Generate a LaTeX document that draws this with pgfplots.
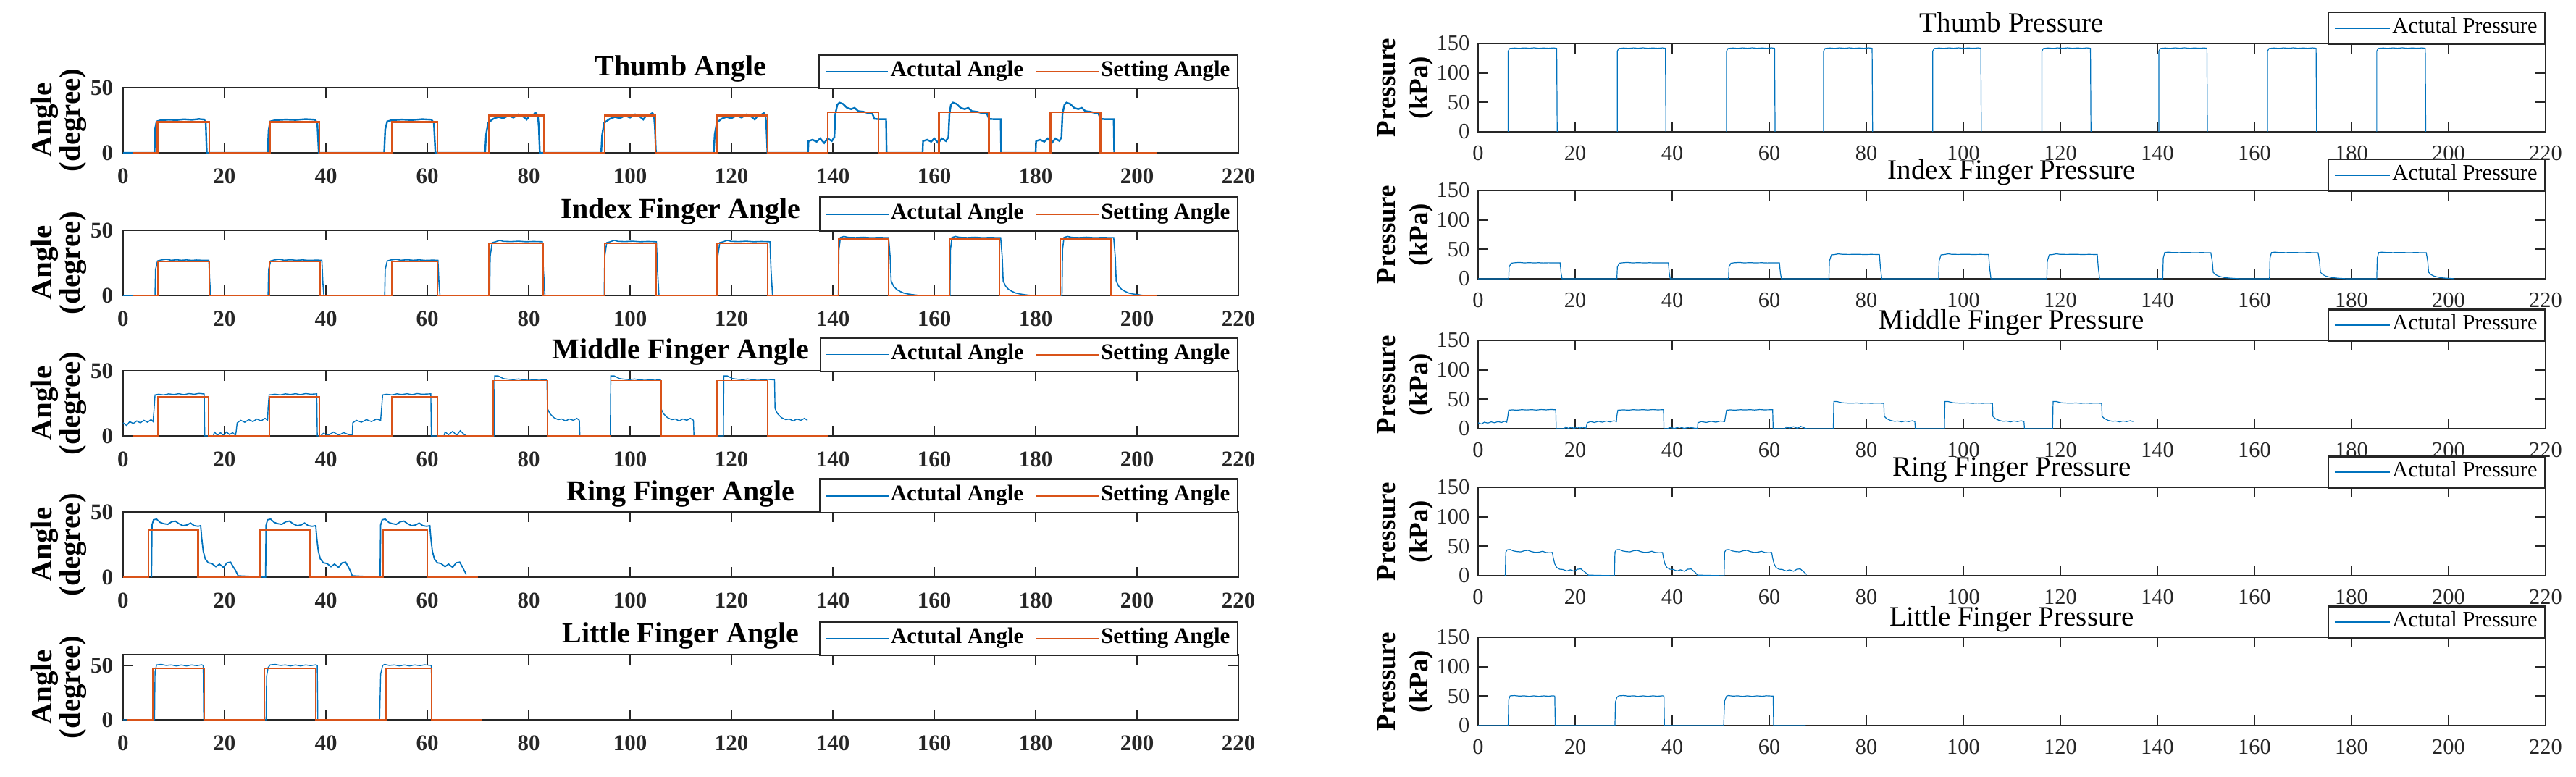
\documentclass[border=0pt]{standalone}
\usepackage{pgfplots}
\pgfplotsset{compat=1.18}
\usepackage{pgfplotstable}
\usepackage{fontspec}
\setmainfont{Liberation Serif}
\definecolor{mblue}{HTML}{0072BD}
\definecolor{morange}{HTML}{D95319}
\definecolor{axc}{HTML}{262626}

% ---------------- THUMB ----------------
\pgfplotstableread{
x y
0 0
6.2 0
6.3 18
6.6 24
7.5 25
9 25.4
10.5 25.1
12 25.7
13.5 25.3
15 25.9
16 25.5
16.3 23
16.5 0
28.5 0
28.7 17
29 24
30 25
32 25.5
34 25.2
36 25.8
37.8 25.4
38.3 23
38.6 0
51.5 0
51.7 18
52.1 24
53 25
55 25.5
57 25.1
59 25.8
60.8 25.4
61.3 23
61.6 0
71.4 0
71.6 14
72 23
73 26
74 27.5
75 26.5
76 28.5
77 27
78 29.5
79 27.5
79.6 25.5
80.2 28.5
81 29.5
81.4 30.5
81.8 29
82 20
82.2 0
94.3 0
94.5 14
94.9 23
96 26
97 27.5
98 26.5
99 28.5
100 27
101 29.5
102 27.5
102.6 25.5
103.2 28.5
104 29.5
104.4 30.5
104.7 29
104.9 20
105.1 0
116.5 0
116.7 14
117.1 23
118 26
119 27.5
120 26.5
121 28.5
122 27
123 29.5
124 27.5
124.6 25.5
125.2 28.5
126 29.5
126.4 30.5
126.7 29
126.9 20
127.1 0
135.1 0
135.2 9
136 10
136.8 8.5
137.5 11
138.3 7.5
139 11
139.8 9
140.3 12
140.5 30
140.9 37
141.3 38.5
142 37.5
142.8 34.5
143.6 33.5
144.3 34.5
145 32
146 31.5
147 30.5
147.8 30
148.2 26
149 25.8
150.5 25.8
150.6 0
157.7 0
157.8 9
158.6 10
159.4 8.5
160 11
160.8 7.5
161.5 11
162.3 9
162.8 12
163 30
163.3 37
163.7 38.5
164.4 37.5
165.2 34.5
166 33.5
166.7 34.5
167.4 32
168.4 31.5
169.4 30.5
170.4 30
170.8 26
171.6 25.8
173.1 25.8
173.2 0
180 0
180.1 9
180.9 10
181.7 8.5
182.4 11
183.2 7.5
183.9 11
184.7 9
185.1 12
185.3 30
185.7 37
186.1 38.5
186.8 37.5
187.6 34.5
188.4 33.5
189.1 34.5
189.8 32
190.8 31.5
191.8 30.5
192.4 30
192.8 26
193.6 25.8
195.4 25.8
195.5 0
}\thumbA

\pgfplotstableread{
x y
1.8 0
6.8 0
6.8 23.5
17 23.5
17 0
28.9 0
28.9 23.5
38.7 23.5
38.7 0
53 0
53 23.5
62 23.5
62 0
72.1 0
72.1 28.5
83 28.5
83 0
95 0
95 28.5
105 28.5
105 0
117.1 0
117.1 28.5
127.1 28.5
127.1 0
139 0
139 31
149 31
149 0
160.9 0
160.9 31
170.8 31
170.8 0
182.9 0
182.9 31
192.8 31
192.8 0
203.8 0
}\thumbS

\pgfplotstableread{
x y
6.2 0
6.2 137
6.5 141.5
7.5 142.3
8.5 141.6
9.5 142.5
10.5 141.8
11.5 142.6
12.5 141.7
13.5 142.4
14.5 141.8
15.5 142.5
16.2 141.8
16.3 0
nan nan
28.7 0
28.7 137
29 141.5
30 142.3
31 141.6
32 142.5
33 141.8
34 142.6
35 141.7
36 142.4
37 141.8
38 142.5
38.6 141.8
38.7 0
nan nan
51.2 0
51.2 137
51.5 141.5
52.5 142.3
53.5 141.6
54.5 142.5
55.5 141.8
56.5 142.6
57.5 141.7
58.5 142.4
59.5 141.8
60.5 142.5
61.1 141.8
61.2 0
nan nan
71.2 0
71.2 137
71.5 141.5
72.5 142.3
73.5 141.6
74.5 142.5
75.5 141.8
76.5 142.6
77.5 141.7
78.5 142.4
79.5 141.8
80.5 142.5
81.2 141.8
81.3 0
nan nan
93.7 0
93.7 137
94 141.5
95 142.3
96 141.6
97 142.5
98 141.8
99 142.6
100 141.7
101 142.4
102 141.8
103 142.5
103.6 141.8
103.7 0
nan nan
116.2 0
116.2 137
116.5 141.5
117.5 142.3
118.5 141.6
119.5 142.5
120.5 141.8
121.5 142.6
122.5 141.7
123.5 142.4
124.5 141.8
125.5 142.5
126.2 141.8
126.3 0
nan nan
140.3 0
140.3 137
140.6 141.5
141.6 142.3
142.6 141.6
143.6 142.5
144.6 141.8
145.6 142.6
146.6 141.7
147.6 142.4
148.6 141.8
149.6 142.5
150.2 141.8
150.3 0
nan nan
162.7 0
162.7 137
163 141.5
164 142.3
165 141.6
166 142.5
167 141.8
168 142.6
169 141.7
170 142.4
171 141.8
172 142.5
172.7 141.8
172.8 0
nan nan
185.2 0
185.2 137
185.5 141.5
186.5 142.3
187.5 141.6
188.5 142.5
189.5 141.8
190.5 142.6
191.5 141.7
192.5 142.4
193.5 141.8
194.5 142.5
195.2 141.8
195.3 0
}\thumbP

% ---------------- INDEX ----------------
\pgfplotstableread{
x y
0 0
6.3 0
6.4 20
6.8 26.5
7.5 27.2
8.5 27.8
9.5 27
10.5 27.4
11.5 27
12.5 27.3
13.5 26.9
14.5 27.2
15.5 27
16.9 27
17.1 10
17.3 0
28.6 0
28.7 20
29.1 26.5
29.8 27.2
30.8 27.8
31.8 27
33 27.4
34.2 27
35.4 27.3
36.6 26.9
38 27.1
39.2 27
39.4 10
39.6 0
51.6 0
51.7 20
52.1 26.5
52.8 27.2
53.8 27.8
54.8 27
56 27.4
57.2 27
58.4 27.3
59.6 26.9
61 27.1
62.1 27
62.3 10
62.5 0
72.3 0
72.4 30
72.8 40.5
73.5 41.2
74.3 42.3
75 41.5
76.5 41.3
78 41.6
79.5 41.2
81 41.4
82.7 41.2
82.9 20
83.2 0
94.9 0
95 30
95.4 40.5
96.1 41.2
96.9 42.3
97.6 41.5
99 41.3
100.5 41.6
102 41.2
103.5 41.4
105.2 41.2
105.4 20
105.7 0
117.2 0
117.3 30
117.7 40.5
118.4 41.2
119.2 42.3
119.9 41.5
121.4 41.3
122.9 41.6
124.4 41.2
125.9 41.4
127.6 41.2
127.8 20
128.1 0
141.1 0
141.2 35
141.5 44.5
142.2 45.3
143 44.6
144.5 44.4
146 44.7
147.5 44.3
149 44.5
151 44.3
151.3 30
151.5 11
152 7
152.6 4.5
153.3 3
154 1.8
155 1
156 0.5
157 0
163.1 0
163.2 35
163.5 44.5
164.2 45.3
165 44.6
166.5 44.4
168 44.7
169.5 44.3
171 44.5
173.1 44.3
173.4 30
173.6 11
174.1 7
174.7 4.5
175.4 3
176.1 1.8
177.1 1
178 0.5
179 0
185.2 0
185.3 35
185.6 44.5
186.3 45.3
187.1 44.6
188.6 44.4
190.1 44.7
191.6 44.3
193.1 44.5
195.4 44.3
195.7 30
195.9 11
196.4 7
197 4.5
197.7 3
198.4 1.8
199.4 1
200.4 0.5
201.2 0
}\indexA

\pgfplotstableread{
x y
1.8 0
6.8 0
6.8 26
17 26
17 0
28.9 0
28.9 26
38.8 26
38.8 0
53 0
53 26
62 26
62 0
72.1 0
72.1 40
82.9 40
82.9 0
95 0
95 40
105.1 40
105.1 0
117.1 0
117.1 40
127.2 40
127.2 0
141.2 0
141.2 43.3
151 43.3
151 0
163 0
163 43.3
172.9 43.3
172.9 0
184.9 0
184.9 43.3
194.8 43.3
194.8 0
203.8 0
}\indexS

% ---------------- MIDDLE ----------------
\pgfplotstableread{
x y
0 10
0.7 8
1.3 11
2 9.5
2.7 11.5
3.4 10
4.1 12
4.8 10.5
5.5 12.5
5.9 11
6.1 20
6.3 31.5
7 32
8 31.5
9 32.3
10 31.8
11 32.4
12 31.7
13 32.5
14 32
15 32.6
16 32.2
16.1 0
17.8 0
18 3
18.6 0.5
19.2 2.5
19.8 0.5
20.4 3
21 1
21.6 2.5
22.2 0.5
22.5 10
23.2 12
24 10.5
24.8 12.5
25.6 11
26.4 13
27.2 11.5
28 13.5
28.5 12
28.6 22
28.8 31.5
30 32
31 31.5
32 32.3
33 31.8
34 32.4
35 31.7
36 32.5
37 32
38.2 32.3
38.3 0
39 0
39.5 2
40.5 0.5
41.5 3
42.5 0.5
43.5 2.5
44.5 1
45.2 0.5
45.3 10
46 12
47 10.5
48 12.5
49 11
50 13
50.8 12
51 22
51.2 31.5
52 32
53 31.5
54 32.3
55 31.8
56 32.4
57 31.7
58 32.5
59 32
60.7 32.3
60.8 0
63.3 0
63.5 3
64.2 1
65 3.5
65.8 0.5
66.5 4
67.3 1
67.8 0
73.2 0
73.3 46
74 46
75 44
76 43.5
77 43.2
78 43.7
79 43
80 43.5
81 43
82 43.4
83.6 43
83.7 21
84.2 17
85 14
85.8 12.5
86.5 13
87.3 11.5
88 13
88.8 12
89.5 13.5
90 12
90.1 0
96.1 0
96.2 46
96.9 46
97.9 44
98.9 43.5
99.9 43.2
100.9 43.7
101.9 43
102.9 43.5
103.9 43
104.9 43.4
106 43
106.1 21
106.6 17
107.4 14
108.2 12.5
108.9 13
109.7 11.5
110.4 13
111.2 12
111.9 13.5
112.5 12
112.6 0
118.4 0
118.5 46
119.2 46
120.2 44
121.2 43.5
122.2 43.2
123.2 43.7
124.2 43
125.2 43.5
126.2 43
127.2 43.4
128.5 43
128.6 21
129.1 17
129.9 14
130.7 12.5
131.4 13
132.2 11.5
132.9 13
133.7 12
134.4 13.5
135 12
}\middleA

\pgfplotstableread{
x y
1.8 0
6.9 0
6.9 30
16.9 30
16.9 0
28.9 0
28.9 30
38.8 30
38.8 0
53 0
53 30
62 30
62 0
73 0
73 42.5
83.8 42.5
83.8 0
96.2 0
96.2 42.5
106.1 42.5
106.1 0
117.1 0
117.1 42.5
127.1 42.5
127.1 0
139 0
}\middleS

% ---------------- RING ----------------
\pgfplotstableread{
x y
5.6 0
5.7 40
6 44
6.6 44.5
7.3 42
8 41
8.8 40.5
9.6 42.5
10.3 43
11 41
11.8 39.5
12.6 40
13.3 41.5
14 39.5
14.8 39
15.3 39.5
15.5 30
15.8 20
16.2 14
16.8 11
17.5 10.5
18.3 8
19 10
19.8 7.5
20.5 11
21.2 11.5
21.7 8
22.2 5
22.7 1
28.1 0
28.2 40
28.5 44
29.1 44.5
29.8 42
30.5 41
31.3 40.5
32.1 42.5
32.8 43
33.5 41
34.3 39.5
35.1 40
35.8 41.5
36.5 39.5
37.3 39
38 39.5
38.2 30
38.5 20
38.9 14
39.5 11
40.2 10.5
41 8
41.7 10
42.5 7.5
43.2 11
43.9 11.5
44.4 8
44.8 5
45.2 1
50.7 0
50.8 40
51.1 44
51.7 44.5
52.4 42
53.1 41
53.9 40.5
54.7 42.5
55.4 43
56.1 41
56.9 39.5
57.7 40
58.4 41.5
59.1 39.5
59.9 39
60.5 39.5
60.7 30
61 20
61.4 14
62 11
62.7 10.5
63.5 8
64.2 10
65 7.5
65.7 11
66.4 11.5
66.9 8
67.3 5
67.7 2
}\ringA

\pgfplotstableread{
x y
0 0
5 0
5 36
14.8 36
14.8 0
27 0
27 36
36.8 36
36.8 0
51.2 0
51.2 36
60 36
60 0
70 0
}\ringS

% ---------------- LITTLE ----------------
\pgfplotstableread{
x y
0 0
6.2 0
6.3 44
6.6 50.5
7.5 51
8.5 50
9.5 50.5
10.5 49.5
11.5 50.5
12.5 49.5
13.5 50.5
14.5 49.8
15.5 50.6
15.8 50
15.9 0
28.2 0
28.3 40
28.6 48
29 50.5
30 51
31 50
32 50.5
33 49.5
34 50.5
35 49.5
36 50.5
37 49.8
38 50.6
38.3 50
38.4 0
50.6 0
50.8 42
51.2 50
51.6 51
52.5 50
53.5 50.5
54.5 49.5
55.5 50.5
56.5 49.5
57.5 50.5
58.5 49.8
59.5 50.6
60.8 50
60.9 0
67.5 0
}\littleA

\pgfplotstableread{
x y
0.8 0
5.9 0
5.9 47
16 47
16 0
27.9 0
27.9 47
38 47
38 0
51.9 0
51.9 47
60.9 47
60.9 0
70.9 0
}\littleS

\pgfplotsset{
  base/.style={
    scale only axis, xmin=0, xmax=220, ymin=0,
    xtick={0,20,...,220},
    tick align=inside,
    axis line style={draw=axc, line width=0.55pt},
    major tick style={draw=axc, line width=0.55pt},
    major tick length=3.5pt,
    /pgf/number format/assume math mode=true,
    xticklabel style={inner sep=0pt, anchor=north},
    yticklabel style={inner sep=0pt, anchor=east},
    unbounded coords=jump,
    clip=false,
  },
  leftax/.style={
    base, width=385pt, height=22.5pt, ymax=50, ytick={0,50},
    tick label style={font=\bfseries\fontsize{7.75}{8}\selectfont, text=axc},
    xticklabel style={yshift=-5.25pt},
    yticklabel style={xshift=-3.25pt},
    every axis title/.style={at={(0.5,1)}, anchor=base, yshift=4pt,
      font=\bfseries\fontsize{10}{12}\selectfont},
    ylabel={Angle\\(degree)},
    every axis y label/.style={at={(axis description cs:-0.0578,0.5)}, rotate=90, anchor=center,
      align=center, font=\bfseries\fontsize{10.25}{9.75}\selectfont},
    legend columns=2,
    legend image code/.code={\draw[##1] (0pt,0pt) -- (21.5pt,0pt);},
    legend style={at={(1,1)}, anchor=south east, yshift=-0.5pt,
      font=\bfseries\fontsize{7.75}{8}\selectfont,
      draw=axc, line width=0.55pt, fill=white,
      inner xsep=2pt, inner ysep=1.5pt, nodes={inner sep=0.6pt, text depth=0.2em},
      /tikz/every even column/.append style={column sep=3.5pt}},
  },
  rightax/.style={
    base, width=368.5pt, height=30.5pt, ymax=150, ytick={0,50,100,150},
    tick label style={font=\fontsize{7.6}{8}\selectfont, text=axc},
    xticklabel style={yshift=-4.5pt},
    yticklabel style={xshift=-2.75pt},
    every axis title/.style={at={(0.5,1)}, anchor=base, yshift=3.75pt,
      font=\fontsize{9.75}{12}\selectfont},
    ylabel={Pressure\\(kPa)},
    every axis y label/.style={at={(axis description cs:-0.0682,0.5)}, rotate=90, anchor=center,
      align=center, font=\bfseries\fontsize{9.25}{11.25}\selectfont},
    legend image code/.code={\draw[##1] (0pt,0pt) -- (19pt,0pt);},
    legend image post style={line width=0.6pt},
    legend style={at={(1,1)}, anchor=south east, yshift=-0.5pt,
      font=\fontsize{7.6}{8}\selectfont,
      draw=axc, line width=0.55pt, fill=white,
      inner xsep=2pt, inner ysep=1.2pt, nodes={inner sep=0.6pt, text depth=0.2em}},
  },
}

\begin{document}
\begin{tikzpicture}
\useasboundingbox (0,0) rectangle (889.25pt,268pt);

% ===== LEFT COLUMN =====
\begin{axis}[leftax, at={(42.5pt,215.25pt)}, anchor=south west, title={Thumb Angle}]
\addplot[mblue, line width=0.6pt] table[x=x,y=y] {\thumbA};
\addplot[morange, line width=0.6pt] table[x=x,y=y] {\thumbS};
\legend{Actutal Angle, Setting Angle}
\end{axis}

\begin{axis}[leftax, at={(42.5pt,166pt)}, anchor=south west, title={Index Finger Angle}]
\addplot[mblue, line width=0.4pt] table[x=x,y=y] {\indexA};
\addplot[morange, line width=0.5pt] table[x=x,y=y] {\indexS};
\legend{Actutal Angle, Setting Angle}
\end{axis}

\begin{axis}[leftax, at={(42.5pt,117.5pt)}, anchor=south west, title={Middle Finger Angle}]
\addplot[mblue, line width=0.35pt] table[x=x,y=y] {\middleA};
\addplot[morange, line width=0.4pt] table[x=x,y=y] {\middleS};
\legend{Actutal Angle, Setting Angle}
\end{axis}

\begin{axis}[leftax, at={(42.5pt,68.75pt)}, anchor=south west, title={Ring Finger Angle}]
\addplot[mblue, line width=0.45pt] table[x=x,y=y] {\ringA};
\addplot[morange, line width=0.55pt] table[x=x,y=y] {\ringS};
\legend{Actutal Angle, Setting Angle}
\end{axis}

\begin{axis}[leftax, at={(42.5pt,19.5pt)}, anchor=south west, ymax=60, title={Little Finger Angle}]
\addplot[mblue, line width=0.35pt] table[x=x,y=y] {\littleA};
\addplot[morange, line width=0.5pt] table[x=x,y=y] {\littleS};
\legend{Actutal Angle, Setting Angle}
\end{axis}

% ===== RIGHT COLUMN =====
\begin{axis}[rightax, at={(510.25pt,222.5pt)}, anchor=south west, title={Thumb Pressure}]
\addplot[mblue, line width=0.3pt] table[x=x,y=y] {\thumbP};
\addlegendentry{Actutal Pressure}
\end{axis}

\begin{axis}[rightax, at={(510.25pt,171.75pt)}, anchor=south west, title={Index Finger Pressure}]
\addplot[mblue, line width=0.3pt] table[x=x,y=y] {\indexA};
\addlegendentry{Actutal Pressure}
\end{axis}

\begin{axis}[rightax, at={(510.25pt,120pt)}, anchor=south west, title={Middle Finger Pressure}]
\addplot[mblue, line width=0.3pt] table[x=x,y=y] {\middleA};
\addlegendentry{Actutal Pressure}
\end{axis}

\begin{axis}[rightax, at={(510.25pt,69.25pt)}, anchor=south west, title={Ring Finger Pressure}]
\addplot[mblue, line width=0.3pt] table[x=x,y=y] {\ringA};
\addlegendentry{Actutal Pressure}
\end{axis}

\begin{axis}[rightax, at={(510.25pt,17.5pt)}, anchor=south west, title={Little Finger Pressure}]
\addplot[mblue, line width=0.3pt] table[x=x,y=y] {\littleA};
\addlegendentry{Actutal Pressure}
\end{axis}
\end{tikzpicture}
\end{document}
